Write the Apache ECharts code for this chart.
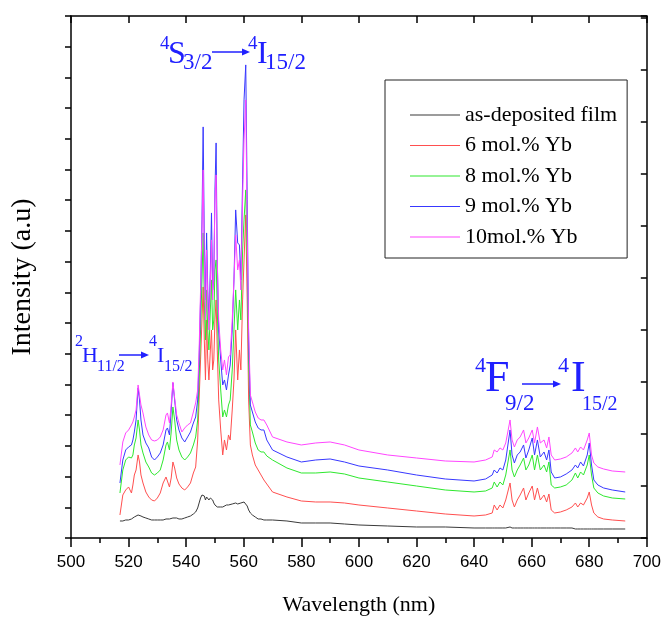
<!DOCTYPE html>
<html>
<head>
<meta charset="utf-8">
<script src="https://cdn.jsdelivr.net/npm/echarts@6/dist/echarts.min.js"></script>
<style>
  html, body { margin: 0; padding: 0; background: #fff; }
  #main { width: 664px; height: 622px; }
</style>
</head>
<body>
<div id="main"></div>
<script>
// 波长 (nm)
var wavelength = [517.0,518.0,519.0,520.0,521.0,521.5,522.0,522.6,523.3,523.8,
  524.3,525.0,526.0,527.0,528.0,529.0,530.0,531.0,532.0,533.0,
  533.5,534.2,534.8,535.4,536.0,536.7,537.5,538.5,539.5,540.5,
  541.5,542.5,543.3,544.0,544.5,545.0,545.5,545.9,546.3,546.7,
  547.1,547.5,547.9,548.4,548.8,549.2,549.6,550.0,550.4,550.8,
  551.3,552.0,552.7,553.3,554.0,554.7,555.3,556.0,556.6,557.2,
  557.9,558.5,559.0,559.6,560.1,560.7,561.2,561.7,562.3,563.0,
  564.0,565.0,566.0,567.0,568.0,570.0,575.0,580.0,585.0,590.0,
  595.0,600.0,610.0,620.0,630.0,640.0,644.0,646.3,647.0,648.0,
  649.0,650.0,651.0,652.5,653.2,654.0,655.0,656.0,657.2,658.0,
  659.0,660.2,661.0,662.0,663.0,664.3,665.2,666.0,666.8,668.0,
  670.0,672.0,674.0,675.2,676.0,677.0,678.0,679.3,680.0,680.8,
  681.6,683.0,685.0,688.0,692.5];

// 强度 (a.u)
var asDeposited = [17,17,18,18,19,20,21,22,23,23,
  22,21,20,19,18,18,18,18,18,19,
  19,19,20,20,20,20,19,19,20,21,
  22,24,26,30,35,40,43,44,42,38,
  41,40,38,40,41,38,35,33,32,31,
  31,31,31,32,33,33,34,34,35,35,
  34,34,35,36,36,35,32,28,25,23,
  21,19,19,18,18,18,17,15,15,15,
  14,13,12,11,11,10,10,10,10,10,
  10,10,10,11,10,10,10,10,10,10,
  10,10,10,10,10,10,10,10,10,10,
  10,10,10,9,9,9,9,9,9,9,
  9,9,9,9,9];
var yb6 = [23,43,48,51,45,53,63,68,83,76,
  63,55,46,41,38,37,40,45,55,61,
  60,51,60,76,70,60,54,50,48,51,
  55,65,71,98,138,178,218,251,198,158,
  218,178,158,188,208,168,178,218,238,188,
  138,108,83,98,88,103,98,128,158,208,
  158,188,168,238,278,323,238,138,93,83,
  73,68,63,58,54,46,41,37,36,36,
  35,33,30,27,24,22,23,25,33,28,
  33,30,38,55,38,31,38,43,50,38,
  45,52,38,50,38,43,36,44,28,25,
  26,28,31,35,31,35,33,40,46,33,
  25,21,19,18,17];
var yb8 = [45,68,78,81,80,83,93,100,118,108,
  93,85,76,71,65,63,65,68,78,93,
  96,88,106,131,118,98,88,81,78,81,
  85,93,101,118,158,208,258,305,238,198,
  248,208,188,228,258,208,218,268,278,228,
  178,148,121,128,121,133,138,168,208,248,
  208,238,218,288,318,348,278,178,113,106,
  95,88,86,86,82,78,70,65,65,66,
  64,60,56,52,48,46,47,50,56,51,
  56,53,63,88,68,61,68,73,80,68,
  73,83,68,83,68,73,66,76,53,50,
  51,53,58,65,60,66,63,73,83,63,
  50,45,42,40,39];
var yb9 = [55,78,88,91,93,98,106,118,150,138,
  118,103,95,90,81,78,81,85,93,108,
  110,103,128,155,138,118,108,100,96,101,
  106,115,121,138,178,238,318,411,298,238,
  305,248,218,268,325,248,258,348,395,278,
  208,178,153,158,148,163,173,208,258,328,
  295,293,258,358,438,473,338,198,133,126,
  116,110,108,108,98,88,81,76,78,79,
  76,72,68,63,59,57,59,63,68,65,
  70,68,78,108,83,75,83,86,93,80,
  88,100,83,98,81,86,78,88,66,60,
  61,64,68,73,70,76,72,83,95,73,
  58,53,50,48,46];
var yb10 = [73,96,105,108,113,116,121,128,153,143,
  133,125,111,103,98,97,98,101,108,123,
  125,115,133,156,140,123,115,106,110,113,
  115,126,135,148,188,248,308,368,278,218,
  288,238,208,258,298,238,268,338,363,278,
  218,188,168,178,163,181,183,218,258,303,
  268,278,248,338,398,438,308,208,143,136,
  126,120,118,118,113,101,96,93,95,96,
  93,88,83,80,77,76,78,81,88,86,
  90,88,95,118,98,91,98,101,108,95,
  100,108,95,111,95,98,90,101,83,78,
  79,81,85,90,86,91,88,98,105,83,
  75,71,69,67,66];

var seriesNames = ['as-deposited film', '6 mol.% Yb', '8 mol.% Yb', '9 mol.% Yb', '10mol.% Yb'];
var seriesColors = ['#3a3a3a', '#ff4f4f', '#2ee82e', '#3838ff', '#ff45ff'];
var seriesValues = [asDeposited, yb6, yb8, yb9, yb10];

var myChart = echarts.init(document.getElementById('main'), null, {renderer: 'canvas'});

function pairUp(values) {
  var out = [];
  for (var i = 0; i < wavelength.length; i++) {
    out.push([wavelength[i], values[i]]);
  }
  return out;
}

var serif = 'Liberation Serif';
var blue = '#2020ff';

// 能级跃迁标注
function label(text, x, y, size) {
  return {
    type: 'text', left: x, top: y - size / 2, silent: true,
    style: { text: text, fill: blue, font: size + 'px "' + serif + '"', textVerticalAlign: 'top' }
  };
}
function arrow(x1, x2, y) {
  return [
    { type: 'line', silent: true, shape: { x1: x1, y1: y, x2: x2 - 6, y2: y }, style: { stroke: blue, lineWidth: 1.5 } },
    { type: 'polygon', silent: true, shape: { points: [[x2, y], [x2 - 8, y - 3.5], [x2 - 8, y + 3.5]] }, style: { fill: blue } }
  ];
}

var graphics = [].concat(
  [label('4', 160, 44, 19), label('S', 168, 55, 32), label('3/2', 183, 63, 23)],
  arrow(212, 250, 52),
  [label('4', 248, 44, 19), label('I', 257, 55, 32), label('15/2', 265, 63, 23)],

  [label('2', 75, 342, 16), label('H', 82, 356, 22), label('11/2', 97, 367, 16)],
  arrow(119, 149, 355),
  [label('4', 149, 342, 16), label('I', 157, 356, 22), label('15/2', 164, 367, 16)],

  [label('4', 475, 366, 22), label('F', 485, 379, 44), label('9/2', 505, 404, 23)],
  arrow(522, 561, 384),
  [label('4', 558, 366, 22), label('I', 571, 379, 44), label('15/2', 582, 405, 20)]
);

var option = {
  animation: false,
  backgroundColor: '#fff',
  grid: { left: 71, right: 16, top: 16, bottom: 84 },
  legend: {
    orient: 'vertical',
    left: 385, top: 80,
    padding: [23, 10, 9, 25],
    itemWidth: 50, itemHeight: 1, itemGap: 6.5,
    icon: 'rect',
    borderColor: '#222', borderWidth: 1,
    textStyle: { fontFamily: serif, fontSize: 22, color: '#000', lineHeight: 24 },
    data: seriesNames
  },
  xAxis: [
    {
      type: 'value', min: 500, max: 700, interval: 20,
      name: 'Wavelength (nm)', nameLocation: 'middle', nameGap: 56,
      nameTextStyle: { fontFamily: serif, fontSize: 22, color: '#000' },
      axisLine: { onZero: false, lineStyle: { color: '#000', width: 1.5 } },
      axisTick: { inside: false, length: 9, lineStyle: { color: '#000', width: 1.5 } },
      minorTick: { show: true, splitNumber: 2, length: 5, lineStyle: { color: '#000', width: 1.5 } },
      axisLabel: { fontFamily: 'Liberation Sans', fontSize: 17, color: '#000', margin: 16 },
      splitLine: { show: false }
    },
    {
      type: 'value', position: 'top', min: 500, max: 700, interval: 20,
      axisLine: { onZero: false, lineStyle: { color: '#000', width: 1.5 } },
      axisTick: { inside: true, length: 7, lineStyle: { color: '#000', width: 1.5 } },
      axisLabel: { show: false },
      splitLine: { show: false }
    }
  ],
  yAxis: [
    {
      type: 'value', min: 0, max: 521.9, interval: 30.7,
      name: 'Intensity (a.u)', nameLocation: 'middle', nameGap: 34, nameRotate: 90,
      nameTextStyle: { fontFamily: serif, fontSize: 28, color: '#000' },
      axisLine: { show: true, onZero: false, lineStyle: { color: '#000', width: 1.5 } },
      axisTick: { show: true, inside: false, length: 6, lineStyle: { color: '#000', width: 1.5 } },
      axisLabel: { show: false },
      splitLine: { show: false }
    },
    {
      type: 'value', position: 'right', min: 0, max: 521.9, interval: 52,
      axisLine: { show: true, onZero: false, lineStyle: { color: '#000', width: 1.5 } },
      axisTick: { show: true, inside: true, length: 6, lineStyle: { color: '#000', width: 1.5 } },
      axisLabel: { show: false },
      splitLine: { show: false }
    }
  ],
  graphic: graphics,
  series: seriesNames.map(function (name, i) {
    return {
      name: name,
      type: 'line',
      showSymbol: false,
      symbol: 'none',
      color: seriesColors[i],
      lineStyle: { width: 1, color: seriesColors[i] },
      data: pairUp(seriesValues[i])
    };
  })
};

myChart.setOption(option);
</script>
</body>
</html>
